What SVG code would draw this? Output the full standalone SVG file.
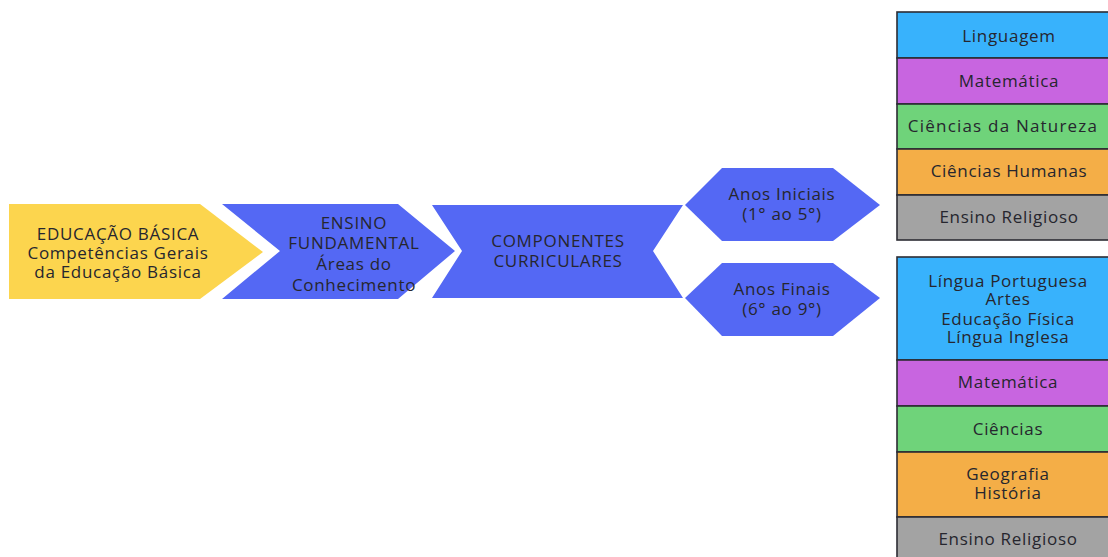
<svg xmlns="http://www.w3.org/2000/svg" width="1108" height="557" viewBox="0 0 1108 557">
<style>
text{font-family:"Open Sans","Noto Sans","Liberation Sans",sans-serif;font-size:17px;letter-spacing:0.7px;fill:#26262e;text-anchor:middle}
.bl{fill:#5468F4}
.cell{stroke:#2c2c34;stroke-width:1.6}
</style>
<rect width="1108" height="557" fill="#ffffff"/>
<g id="educacao-basica">
<polygon points="9,204 200,204 263,252 200,299 9,299" fill="#FCD54E"/>
<text x="118" y="240">EDUCAÇÃO BÁSICA</text>
<text x="118" y="259">Competências Gerais</text>
<text x="118" y="278">da Educação Básica</text>
</g>
<g id="ensino-fundamental">
<polygon class="bl" points="222,204 398,204 455,251 398,299 222,299 280,251"/>
<text x="354" y="229">ENSINO</text>
<text x="354" y="249">FUNDAMENTAL</text>
<text x="354" y="270">Áreas do</text>
<text x="354" y="291">Conhecimento</text>
</g>
<g id="componentes">
<polygon class="bl" points="432,205 683,205 653,251 683,298 432,298 462,251"/>
<text x="558" y="247">COMPONENTES</text>
<text x="558" y="267">CURRICULARES</text>
</g>
<g id="anos-iniciais">
<polygon class="bl" points="685,205 722,168 833,168 880,205 833,241 722,241"/>
<text x="782" y="200">Anos Iniciais</text>
<text x="782" y="220">(1° ao 5°)</text>
</g>
<g id="anos-finais">
<polygon class="bl" points="685,298 722,263 833,263 880,298 833,336 722,336"/>
<text x="782" y="295">Anos Finais</text>
<text x="782" y="315">(6° ao 9°)</text>
</g>
<g id="iniciais-componentes">
<rect class="cell" x="897" y="12" width="220" height="46" fill="#38B2FC"/>
<rect class="cell" x="897" y="58" width="220" height="46" fill="#C865E0"/>
<rect class="cell" x="897" y="104" width="220" height="45" fill="#6FD37A"/>
<rect class="cell" x="897" y="149" width="220" height="46" fill="#F4AE47"/>
<rect class="cell" x="897" y="195" width="220" height="45" fill="#A3A3A3"/>
<text x="1009" y="42">Linguagem</text>
<text x="1009" y="87">Matemática</text>
<text x="1003" y="132" style="letter-spacing:1.2px">Ciências da Natureza</text>
<text x="1009" y="177">Ciências Humanas</text>
<text x="1009" y="223">Ensino Religioso</text>
</g>
<g id="finais-componentes">
<rect class="cell" x="897" y="257" width="220" height="103" fill="#38B2FC"/>
<rect class="cell" x="897" y="360" width="220" height="46" fill="#C865E0"/>
<rect class="cell" x="897" y="406" width="220" height="46" fill="#6FD37A"/>
<rect class="cell" x="897" y="452" width="220" height="65" fill="#F4AE47"/>
<rect class="cell" x="897" y="517" width="220" height="50" fill="#A3A3A3"/>
<text x="1008" y="287">Língua Portuguesa</text>
<text x="1008" y="305">Artes</text>
<text x="1008" y="325">Educação Física</text>
<text x="1008" y="343">Língua Inglesa</text>
<text x="1008" y="388">Matemática</text>
<text x="1008" y="435">Ciências</text>
<text x="1008" y="480">Geografia</text>
<text x="1008" y="499">História</text>
<text x="1008" y="545">Ensino Religioso</text>
</g>
<g id="connectors"></g>
</svg>
